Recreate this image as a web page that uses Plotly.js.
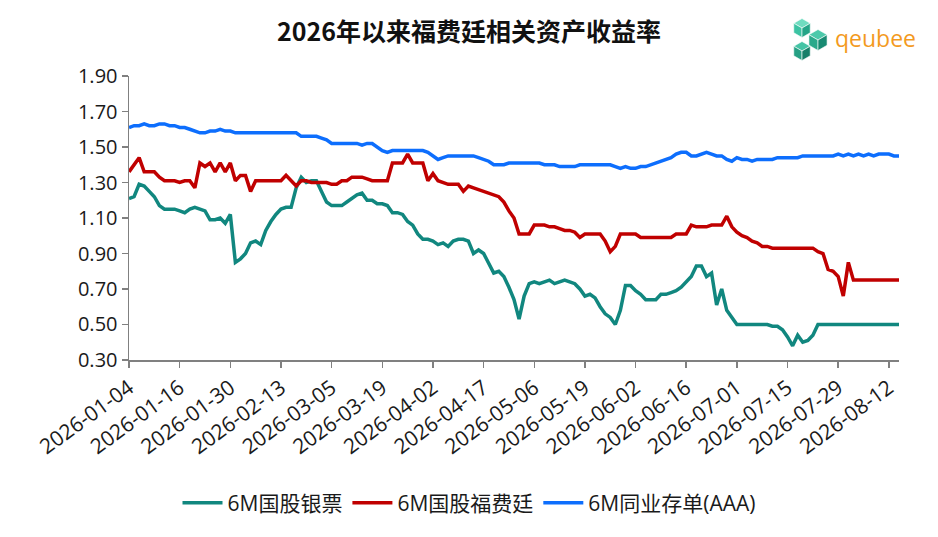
<!DOCTYPE html>
<html>
<head>
<meta charset="utf-8">
<script src="https://cdn.plot.ly/plotly-3.0.1.min.js"></script>
<style>
  html, body { margin: 0; padding: 0; background: #ffffff; }
  #chart { width: 938px; height: 537px; }
</style>
</head>
<body>
<div id="chart"></div>
<script>
// ---------- DATA ----------
const dates = [
  "2026-01-04","2026-01-05","2026-01-06","2026-01-07","2026-01-08","2026-01-09",
  "2026-01-12","2026-01-13","2026-01-14","2026-01-15","2026-01-16",
  "2026-01-19","2026-01-20","2026-01-21","2026-01-22","2026-01-23",
  "2026-01-26","2026-01-27","2026-01-28","2026-01-29","2026-01-30",
  "2026-02-02","2026-02-03","2026-02-04","2026-02-05","2026-02-06",
  "2026-02-09","2026-02-10","2026-02-11","2026-02-12","2026-02-13","2026-02-14",
  "2026-02-24","2026-02-25","2026-02-26","2026-02-27","2026-02-28",
  "2026-03-02","2026-03-03","2026-03-04","2026-03-05","2026-03-06",
  "2026-03-09","2026-03-10","2026-03-11","2026-03-12","2026-03-13",
  "2026-03-16","2026-03-17","2026-03-18","2026-03-19","2026-03-20",
  "2026-03-23","2026-03-24","2026-03-25","2026-03-26","2026-03-27",
  "2026-03-30","2026-03-31","2026-04-01","2026-04-02","2026-04-03",
  "2026-04-07","2026-04-08","2026-04-09","2026-04-10",
  "2026-04-13","2026-04-14","2026-04-15","2026-04-16","2026-04-17",
  "2026-04-20","2026-04-21","2026-04-22","2026-04-23","2026-04-24",
  "2026-04-27","2026-04-28","2026-04-29","2026-04-30",
  "2026-05-06","2026-05-07","2026-05-08","2026-05-09",
  "2026-05-11","2026-05-12","2026-05-13","2026-05-14","2026-05-15",
  "2026-05-18","2026-05-19","2026-05-20","2026-05-21","2026-05-22",
  "2026-05-25","2026-05-26","2026-05-27","2026-05-28","2026-05-29",
  "2026-06-01","2026-06-02","2026-06-03","2026-06-04","2026-06-05",
  "2026-06-08","2026-06-09","2026-06-10","2026-06-11","2026-06-12",
  "2026-06-15","2026-06-16","2026-06-17","2026-06-18",
  "2026-06-22","2026-06-23","2026-06-24","2026-06-25","2026-06-26",
  "2026-06-29","2026-06-30","2026-07-01","2026-07-02","2026-07-03",
  "2026-07-06","2026-07-07","2026-07-08","2026-07-09","2026-07-10",
  "2026-07-13","2026-07-14","2026-07-15","2026-07-16","2026-07-17",
  "2026-07-20","2026-07-21","2026-07-22","2026-07-23","2026-07-24",
  "2026-07-27","2026-07-28","2026-07-29","2026-07-30","2026-07-31",
  "2026-08-03","2026-08-04","2026-08-05","2026-08-06","2026-08-07",
  "2026-08-10","2026-08-11","2026-08-12","2026-08-13","2026-08-14"
];

const tickLabels = [
  "2026-01-04","2026-01-16","2026-01-30","2026-02-13","2026-03-05","2026-03-19",
  "2026-04-02","2026-04-17","2026-05-06","2026-05-19","2026-06-02","2026-06-16",
  "2026-07-01","2026-07-15","2026-07-29","2026-08-12"
];

// 6M国股银票
const yinpiao = [
  1.21,1.22,1.29,1.28,1.25,1.22,1.17,1.15,1.15,1.15,1.14,
  1.13,1.15,1.16,1.15,1.14,1.09,1.09,1.10,1.07,1.12,
  0.85,0.87,0.90,0.96,0.97,0.95,1.03,1.08,1.12,1.15,1.16,
  1.16,1.27,1.33,1.30,1.31,1.31,1.25,1.19,1.17,1.17,
  1.17,1.19,1.21,1.23,1.24,1.20,1.20,1.18,1.18,1.17,
  1.13,1.13,1.12,1.08,1.06,1.01,0.98,0.98,0.97,0.95,
  0.96,0.94,0.97,0.98,0.98,0.97,0.90,0.92,0.90,0.85,
  0.79,0.80,0.77,0.71,0.64,0.53,0.66,0.73,0.74,0.73,
  0.74,0.75,0.73,0.74,0.75,0.74,0.73,0.70,0.66,0.67,
  0.65,0.60,0.56,0.54,0.50,0.58,0.72,0.72,0.69,0.67,
  0.64,0.64,0.64,0.67,0.67,0.68,0.69,0.71,0.74,0.77,
  0.83,0.83,0.77,0.79,0.61,0.70,0.58,0.54,0.50,0.50,
  0.50,0.50,0.50,0.50,0.50,0.49,0.49,0.47,0.43,0.38,
  0.44,0.40,0.41,0.44,0.50,0.50,0.50,0.50,0.50,0.50,
  0.50,0.50,0.50,0.50,0.50,0.50,0.50,0.50,0.50,0.50,
  0.50,0.50,0.50
];

// 6M国股福费廷
const forfaiting = [
  1.36,1.40,1.44,1.36,1.36,1.36,1.33,1.31,1.31,1.31,1.30,
  1.31,1.31,1.27,1.41,1.39,1.41,1.36,1.41,1.36,1.41,
  1.31,1.34,1.34,1.25,1.31,1.31,1.31,1.31,1.31,1.31,1.34,
  1.31,1.28,1.31,1.31,1.30,1.30,1.30,1.30,1.29,1.29,
  1.31,1.31,1.33,1.33,1.33,1.32,1.31,1.31,1.31,1.31,
  1.41,1.41,1.41,1.46,1.41,1.41,1.41,1.31,1.35,1.31,
  1.30,1.29,1.29,1.29,1.25,1.28,1.27,1.26,1.25,1.24,
  1.23,1.22,1.19,1.14,1.10,1.01,1.01,1.01,1.06,1.06,
  1.06,1.05,1.05,1.04,1.03,1.03,1.02,0.99,1.01,1.01,
  1.01,1.01,0.97,0.91,0.94,1.01,1.01,1.01,1.01,0.99,
  0.99,0.99,0.99,0.99,0.99,0.99,1.01,1.01,1.01,1.06,
  1.05,1.05,1.05,1.06,1.06,1.06,1.11,1.05,1.02,1.00,
  0.99,0.97,0.96,0.94,0.94,0.93,0.93,0.93,0.93,0.93,
  0.93,0.93,0.93,0.93,0.91,0.90,0.81,0.80,0.77,0.66,
  0.85,0.75,0.75,0.75,0.75,0.75,0.75,0.75,0.75,0.75,
  0.75,0.75,0.75
];

// 6M同业存单(AAA)
const cd = [
  1.61,1.62,1.62,1.63,1.62,1.62,1.63,1.63,1.62,1.62,1.61,
  1.61,1.60,1.59,1.58,1.58,1.59,1.59,1.60,1.59,1.59,
  1.58,1.58,1.58,1.58,1.58,1.58,1.58,1.58,1.58,1.58,1.58,
  1.58,1.58,1.56,1.56,1.56,1.56,1.55,1.54,1.52,1.52,
  1.52,1.52,1.52,1.52,1.51,1.52,1.52,1.50,1.48,1.47,
  1.48,1.48,1.48,1.48,1.48,1.48,1.48,1.47,1.45,1.43,
  1.44,1.45,1.45,1.45,1.45,1.45,1.45,1.44,1.43,1.42,
  1.40,1.40,1.40,1.41,1.41,1.41,1.41,1.41,1.41,1.41,
  1.40,1.40,1.40,1.39,1.39,1.39,1.39,1.40,1.40,1.40,
  1.40,1.40,1.40,1.40,1.39,1.38,1.39,1.38,1.38,1.39,
  1.39,1.40,1.41,1.42,1.43,1.44,1.46,1.47,1.47,1.45,
  1.45,1.46,1.47,1.46,1.45,1.45,1.43,1.42,1.44,1.43,
  1.43,1.42,1.43,1.43,1.43,1.43,1.44,1.44,1.44,1.44,
  1.44,1.45,1.45,1.45,1.45,1.45,1.45,1.45,1.46,1.45,
  1.46,1.45,1.46,1.45,1.46,1.45,1.46,1.46,1.46,1.45,
  1.45,1.45,1.45
];

const seriesNames = ["6M国股银票", "6M国股福费廷", "6M同业存单(AAA)"];
const seriesColors = ["#11877f", "#c00000", "#0d6efd"];

// ---------- CHART ----------
const FONT = '"Open Sans", "Noto Sans CJK SC", "Noto Sans", sans-serif';
const traces = [yinpiao, forfaiting, cd].map((vals, k) => ({
  type: 'scatter',
  mode: 'lines',
  x: dates,
  y: vals,
  name: seriesNames[k],
  line: { color: seriesColors[k], width: 3.5 },
  hoverinfo: 'x+y+name'
}));

// decorative logo (pixel -> paper helper)
const PL = 129, PR = 899, PT = 76, PB = 360;
function px(x) { return (x - PL) / (PR - PL); }
function py(y) { return (PB - y) / (PB - PT); }
function cube(cx, cy, r, cols) {
  const s = 0.866 * r;
  const pts = {
    c: [cx, cy], t: [cx, cy - r], ur: [cx + s, cy - r / 2], lr: [cx + s, cy + r / 2],
    b: [cx, cy + r], ll: [cx - s, cy + r / 2], ul: [cx - s, cy - r / 2]
  };
  const faces = [["c","ul","t","ur"], ["c","ul","ll","b"], ["c","ur","lr","b"]];
  return faces.map((f, i) => ({
    type: 'path', xref: 'paper', yref: 'paper',
    path: 'M' + f.map(k => px(pts[k][0]).toFixed(5) + ',' + py(pts[k][1]).toFixed(5)).join(' L') + ' Z',
    fillcolor: cols[i], line: { width: 0.6, color: '#ffffff' }, layer: 'above'
  }));
}
const logoShapes = [].concat(
  cube(802, 28, 9.5, ['#6fdcc0', '#3cc3a3', '#24a487']),
  cube(818, 40, 10.5, ['#4cc9aa', '#2aa98b', '#188a72']),
  cube(802, 51, 9.5, ['#45c4a5', '#26a084', '#167f69'])
);

const layout = {
  width: 938,
  height: 537,
  paper_bgcolor: '#ffffff',
  plot_bgcolor: '#ffffff',
  margin: { l: PL, r: 938 - PR, t: PT, b: 537 - PB, pad: 0 },
  font: { family: FONT, color: '#1a1a1a', size: 20 },
  title: {
    text: '<b>2026年以来福费廷相关资产收益率</b>',
    font: { family: '"Noto Sans CJK SC", "Open Sans", sans-serif', size: 25, color: '#111111' },
    x: 0.5, xref: 'container', xanchor: 'center',
    y: 1 - 32 / 537, yref: 'container', yanchor: 'middle'
  },
  showlegend: true,
  legend: {
    orientation: 'h',
    x: 0.5, xref: 'container', xanchor: 'center',
    y: 1 - 503 / 537, yref: 'container', yanchor: 'middle',
    font: { family: FONT, size: 21, color: '#1a1a1a' },
    itemwidth: 40,
    traceorder: 'normal'
  },
  xaxis: {
    type: 'category',
    range: [0, dates.length - 1],
    tickmode: 'array',
    tickvals: tickLabels,
    ticktext: tickLabels,
    tickangle: -36,
    ticks: 'outside',
    ticklen: 6,
    tickwidth: 1.5,
    tickcolor: '#808080',
    showline: true,
    linecolor: '#808080',
    linewidth: 1.5,
    showgrid: false,
    zeroline: false,
    automargin: false,
    tickfont: { family: FONT, size: 21, color: '#1a1a1a' }
  },
  yaxis: {
    range: [0.2999, 1.9001],
    tickmode: 'linear',
    tick0: 0.30,
    dtick: 0.20,
    tickformat: '.2f',
    ticks: 'outside',
    ticklen: 6,
    tickwidth: 1.5,
    tickcolor: '#808080',
    showline: true,
    linecolor: '#808080',
    linewidth: 1.5,
    showgrid: false,
    zeroline: false,
    automargin: false,
    tickfont: { family: FONT, size: 20, color: '#1a1a1a' }
  },
  shapes: logoShapes,
  annotations: [{
    text: 'qeubee',
    xref: 'paper', yref: 'paper',
    x: px(833), y: py(38), xanchor: 'left', yanchor: 'middle',
    showarrow: false,
    font: { family: '"Open Sans", "Noto Sans", sans-serif', size: 23, color: '#f39a1e' }
  }]
};

Plotly.newPlot('chart', traces, layout, { displayModeBar: false, staticPlot: true });
</script>
</body>
</html>
